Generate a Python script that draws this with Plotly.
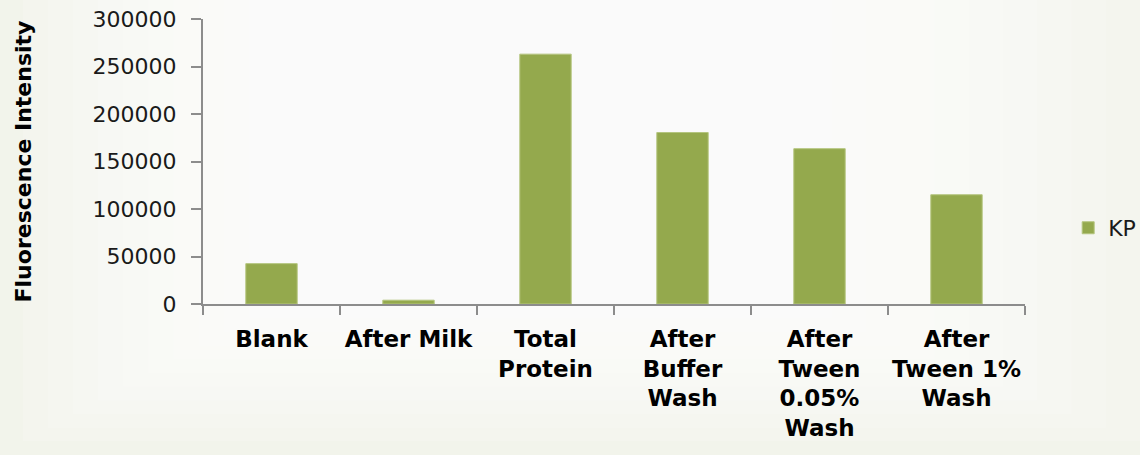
import plotly.graph_objects as go

# Fluorescence readings of the KP sample after each step
categories = [
    "Blank",
    "After Milk",
    "Total<br>Protein",
    "After<br>Buffer<br>Wash",
    "After<br>Tween<br>0.05%<br>Wash",
    "After<br>Tween 1%<br>Wash",
]
kp_values = [42500, 4000, 263000, 180500, 163500, 115000]
series_name = "KP"
y_ticks = [0, 50000, 100000, 150000, 200000, 250000, 300000]

bar_color = "#94A94D"
axis_color = "#8C8C8C"
text_color = "#1A1A1A"

W, H = 1140, 455
M_L, M_R, M_T, M_B = 203, 115, 19, 151
plot_w = W - M_L - M_R
plot_h = H - M_T - M_B


def px_to_paper_x(px):
    return (px - M_L) / plot_w


def px_to_paper_y(py):
    return (H - M_B - py) / plot_h


fig = go.Figure()
fig.add_trace(go.Bar(
    x=categories,
    y=kp_values,
    name=series_name,
    marker=dict(color=bar_color, line=dict(color="#B4C57E", width=1)),
    showlegend=True,
))

# soft light backdrop: pale green-grey edges fading towards white in the middle
shapes = []
n_steps = 10
for i in range(n_steps):
    f = i / n_steps
    x0 = px_to_paper_x(W * (0.02 + 0.22 * f))
    x1 = px_to_paper_x(W * (1.0 - 0.30 * f))
    y0 = px_to_paper_y(H * (0.97 - 0.30 * f))
    y1 = px_to_paper_y(0)
    shapes.append(dict(
        type="rect", xref="paper", yref="paper",
        x0=x0, x1=x1, y0=y0, y1=y1,
        fillcolor="white", opacity=0.16, line=dict(width=0), layer="below",
    ))

fig.update_layout(
    width=W,
    height=H,
    margin=dict(l=M_L, r=M_R, t=M_T, b=M_B, autoexpand=False),
    paper_bgcolor="#F2F4EB",
    plot_bgcolor="rgba(0,0,0,0)",
    bargap=0.625,
    shapes=shapes,
    font=dict(family="DejaVu Sans", size=22, color=text_color),
    legend=dict(
        xref="container", yref="container",
        x=0.937, xanchor="left", y=0.499, yanchor="middle",
        bgcolor="rgba(0,0,0,0)",
        font=dict(family="DejaVu Sans", size=22, color=text_color),
    ),
    xaxis=dict(
        automargin=False,
        showline=True, linecolor=axis_color, linewidth=2,
        ticks="outside", tickson="boundaries", ticklen=9,
        tickcolor=axis_color, tickwidth=2,
        tickangle=0,
        tickfont=dict(family="DejaVu Sans", size=23, color="#000000", weight="bold"),
        ticklabelstandoff=13,
        showgrid=False,
    ),
    yaxis=dict(
        automargin=False,
        range=[0, 300000],
        tickvals=y_ticks,
        ticktext=[str(v) for v in y_ticks],
        showline=True, linecolor=axis_color, linewidth=2,
        ticks="outside", ticklen=10, tickcolor=axis_color, tickwidth=2,
        tickfont=dict(family="DejaVu Sans", size=22, color=text_color),
        ticklabelstandoff=10,
        showgrid=False, zeroline=False,
        title=dict(
            text="Fluorescence Intensity",
            font=dict(family="DejaVu Sans", size=22, color="#000000", weight="bold"),
            standoff=55,
        ),
    ),
)

fig.write_html("out.html")
